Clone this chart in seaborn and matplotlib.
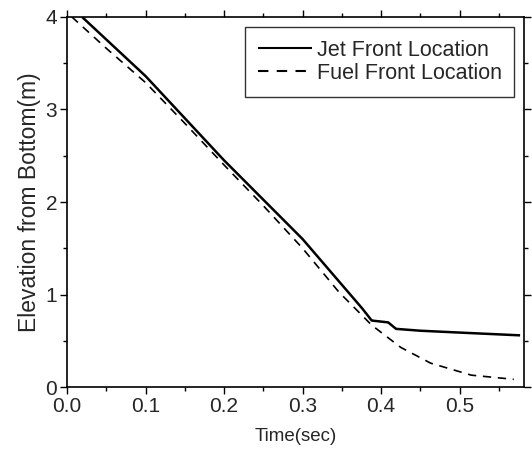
import numpy as np
import pandas as pd
import matplotlib
matplotlib.use("Agg")
import matplotlib.pyplot as plt
from matplotlib.ticker import MultipleLocator, FormatStrFormatter
import seaborn as sns

# values
jet_time = [0.019, 0.10, 0.20, 0.30, 0.376, 0.388, 0.409, 0.419, 0.45, 0.50, 0.577]
jet_elev = [4.00, 3.36, 2.45, 1.60, 0.85, 0.72, 0.70, 0.63, 0.61, 0.59, 0.56]

fuel_time = [0.006, 0.05, 0.10, 0.15, 0.20, 0.25, 0.30, 0.346, 0.388, 0.425, 0.463, 0.515, 0.569]
fuel_elev = [4.00, 3.66, 3.29, 2.85, 2.40, 1.96, 1.50, 1.03, 0.67, 0.43, 0.26, 0.13, 0.085]

series_names = ["Jet Front Location", "Fuel Front Location"]

df = pd.concat([
    pd.DataFrame({"Time": jet_time, "Elevation": jet_elev, "Series": series_names[0]}),
    pd.DataFrame({"Time": fuel_time, "Elevation": fuel_elev, "Series": series_names[1]}),
])

sns.set_style("ticks")
plt.rcParams['font.family'] = ['Liberation Sans', 'DejaVu Sans']

fig = plt.figure(figsize=(5.32, 4.55), dpi=100)
ax = fig.add_axes([0.126, 0.149, 0.859, 0.814])

sns.lineplot(data=df, x="Time", y="Elevation", hue="Series", style="Series",
             palette=["black", "black"], dashes=[(1, 0), (5, 4)],
             sort=False, estimator=None, ax=ax)
for ln, lw in zip(ax.lines, [1.8, 1.2]):
    ln.set_linewidth(lw)

ax.set_xlim(0, 0.582)
ax.set_ylim(0, 4)
ax.xaxis.set_major_locator(MultipleLocator(0.1))
ax.xaxis.set_minor_locator(MultipleLocator(0.05))
ax.yaxis.set_major_locator(MultipleLocator(1))
ax.yaxis.set_minor_locator(MultipleLocator(0.5))
ax.xaxis.set_major_formatter(FormatStrFormatter("%.1f"))

ax.tick_params(which="both", direction="out", top=True, right=True, color="black", width=1.0)
ax.tick_params(which="major", length=5, labelsize=15, pad=2)
ax.tick_params(which="minor", length=3)
for s in ax.spines.values():
    s.set_visible(True)
    s.set_color("black")
    s.set_linewidth(1.2)

ax.set_xlabel("Time(sec)", fontsize=13.5, labelpad=9)
ax.set_ylabel("Elevation from Bottom(m)", fontsize=16.5, labelpad=3)

leg = ax.legend(loc="upper right", fontsize=15.5, frameon=True, fancybox=False,
                edgecolor="black", handlelength=2.5, handletextpad=0.2,
                borderpad=0.6, labelspacing=0.1, borderaxespad=0,
                bbox_to_anchor=(0.979, 0.973))
leg.get_frame().set_linewidth(1.0)

plt.savefig("out.png", dpi=100)
